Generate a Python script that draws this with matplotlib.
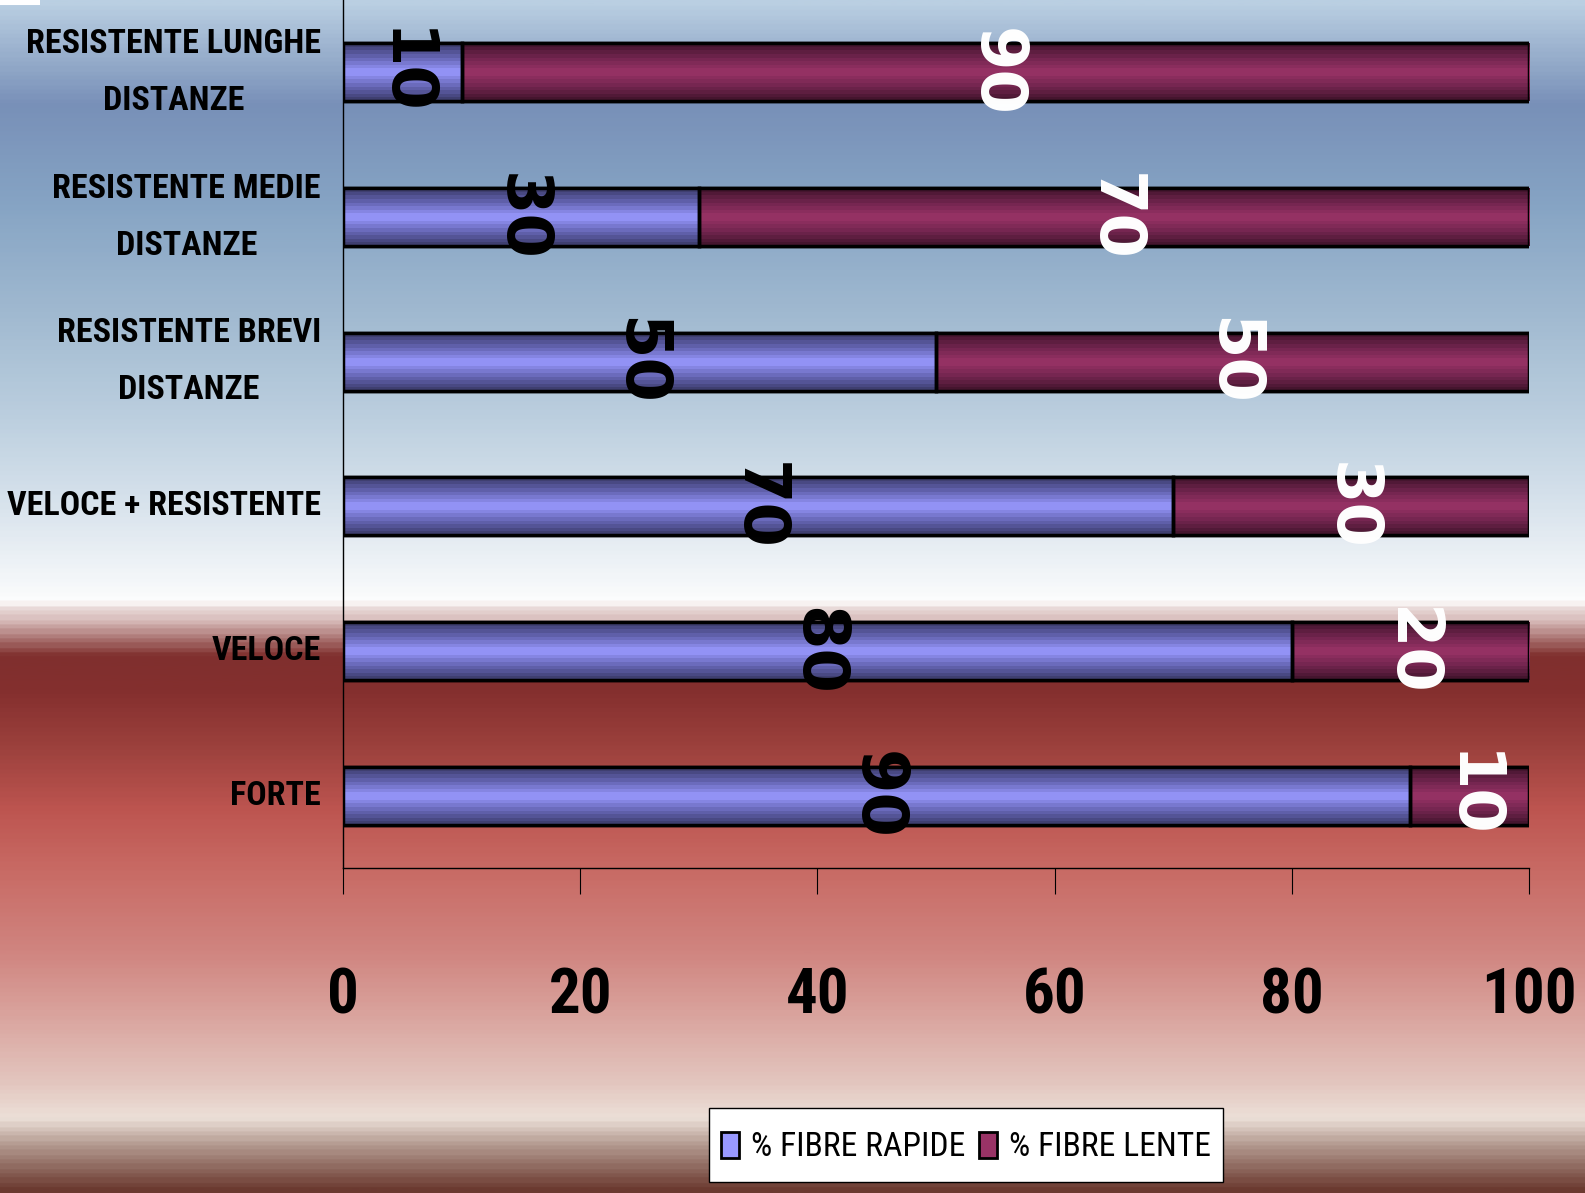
import numpy as np
import matplotlib
matplotlib.use("Agg")
import matplotlib.pyplot as plt
from matplotlib.colors import LinearSegmentedColormap
from matplotlib.patches import Patch, Rectangle
from matplotlib.legend_handler import HandlerPatch
from matplotlib import font_manager as fm

# ---- data ----
categories = ["FORTE", "VELOCE", "VELOCE + RESISTENTE",
              "RESISTENTE BREVI\nDISTANZE", "RESISTENTE MEDIE\nDISTANZE",
              "RESISTENTE LUNGHE\nDISTANZE"]
fibre_rapide = [90, 80, 70, 50, 30, 10]
fibre_lente = [10, 20, 30, 50, 70, 90]
series_names = ["% FIBRE RAPIDE", "% FIBRE LENTE"]
x_ticks = [0, 20, 40, 60, 80, 100]


def pick_family(cands):
    for c in cands:
        try:
            fm.findfont(fm.FontProperties(family=c), fallback_to_default=False)
            return c
        except Exception:
            continue
    return "DejaVu Sans"


NARROW_NAME = pick_family(["Liberation Sans Narrow", "Arial Narrow", "Roboto Condensed",
                           "DejaVu Sans Condensed", "Open Sans Condensed", "Liberation Sans"])
NARROW = [NARROW_NAME, "DejaVu Sans"]

W, H = 1585, 1193
fig = plt.figure(figsize=(W / 100, H / 100), dpi=100)
renderer = fig.canvas.get_renderer()


def fit_size(text, target_px, max_size, **kw):
    t = fig.text(0, 0, text, fontsize=20, family=NARROW, **kw)
    w = t.get_window_extent(renderer).width
    t.remove()
    return min(max_size, 20 * target_px / w)


cat_size = fit_size("VELOCE + RESISTENTE", 314, 27, fontweight="bold", fontstretch="condensed")
tick_size = fit_size("100", 95, 56, fontweight="bold", fontstretch="condensed")
leg_size = fit_size("% FIBRE RAPIDE", 214, 26, fontstretch="condensed")

# ---- background gradient ----
stops = [
    (0.000, "#bacfe2"), (0.085, "#7890b8"), (0.17, "#86a4c4"),
    (0.26, "#a0b9d0"), (0.35, "#bccfdf"), (0.43, "#dbe5ee"),
    (0.50, "#fafbfc"), (0.505, "#ffffff"), (0.507, "#ede2e1"),
    (0.52, "#d8bcba"), (0.55, "#80302e"), (0.58, "#842f2e"),
    (0.63, "#9e423e"), (0.68, "#bd5550"), (0.73, "#c86a64"),
    (0.80, "#d08580"), (0.85, "#d9a29c"), (0.91, "#e3c6bf"),
    (0.94, "#ece0d8"), (0.96, "#b8a096"), (1.0, "#6b3a30"),
]
cmap_bg = LinearSegmentedColormap.from_list("bg", stops)
bg = fig.add_axes([0, 0, 1, 1], zorder=-10)
bg.imshow(np.linspace(0, 1, 600).reshape(-1, 1), aspect="auto", cmap=cmap_bg,
          extent=[0, 1, 0, 1], origin="upper")
bg.set_axis_off()
fig.patches.append(Rectangle((0, 1 - 5 / H), 40 / W, 5 / H, transform=fig.transFigure,
                             facecolor="white", edgecolor="none", zorder=5))

# ---- main axes ----
ax = fig.add_axes([343 / W, 1 - 868 / H, (1529 - 343) / W, 868 / H])
ax.patch.set_alpha(0)
y = np.arange(len(categories))
bh = 0.4

blue_cmap = LinearSegmentedColormap.from_list(
    "b", [(0, "#3f3f70"), (0.25, "#6868b8"), (0.5, "#9999ff"), (0.75, "#6868b8"), (1, "#3f3f70")])
red_cmap = LinearSegmentedColormap.from_list(
    "r", [(0, "#45152e"), (0.25, "#742650"), (0.5, "#993366"), (0.75, "#742650"), (1, "#45152e")])

b1 = ax.barh(y, fibre_rapide, height=bh, color="#9999ff", edgecolor="black", linewidth=2.5, zorder=2)
b2 = ax.barh(y, fibre_lente, left=fibre_rapide, height=bh, color="#993366",
             edgecolor="black", linewidth=2.5, zorder=2)

grad = np.linspace(0, 1, 16).reshape(-1, 1)
for bars, cm in ((b1, blue_cmap), (b2, red_cmap)):
    for p in bars:
        x0, y0 = p.get_x(), p.get_y()
        w, h = p.get_width(), p.get_height()
        im = ax.imshow(grad, aspect="auto", cmap=cm, extent=[x0, x0 + w, y0, y0 + h],
                       origin="lower", zorder=2.5, interpolation="nearest")
        im.set_clip_path(p)
        ax.add_patch(Rectangle((x0, y0), w, h, facecolor="none", edgecolor="black",
                               linewidth=2.5, zorder=3))

# value labels
for i in range(len(categories)):
    ax.text(fibre_rapide[i] / 2, y[i], str(fibre_rapide[i]), rotation=-90,
            ha="center", va="center", fontsize=46, fontweight="bold",
            family="DejaVu Sans", color="black", zorder=5)
    ax.text(fibre_rapide[i] + fibre_lente[i] / 2, y[i], str(fibre_lente[i]), rotation=-90,
            ha="center", va="center", fontsize=46, fontweight="bold",
            family="DejaVu Sans", color="white", zorder=5)

ax.set_xlim(0, 100)
ax.set_ylim(-0.5, 5.5)
ax.set_xticks(x_ticks)
ax.set_xticklabels([str(t) for t in x_ticks], family=NARROW, fontweight="bold",
                   fontstretch="condensed", fontsize=tick_size)
ax.tick_params(axis="x", direction="out", length=19, width=0.8, pad=52)
ax.set_yticks(y)
ax.set_yticklabels(categories, family=NARROW, fontweight="bold", fontstretch="condensed",
                   fontsize=cat_size, linespacing=2.0, multialignment="center", va="center")
ax.tick_params(axis="y", length=0, pad=16)
for s in ("top", "right"):
    ax.spines[s].set_visible(False)
ax.spines["left"].set_linewidth(1.0)
ax.spines["bottom"].set_linewidth(1.0)


# legend with small square keys in a taller row
def small_key(legend, orig_handle, xdescent, ydescent, width, height, fontsize):
    kh = 0.75 * fontsize
    return Rectangle((-xdescent, -ydescent + (height - kh) / 2), width, kh)


handles = [Patch(facecolor="#9999ff", edgecolor="black", linewidth=2),
           Patch(facecolor="#993366", edgecolor="black", linewidth=2)]
leg = fig.legend(handles, series_names, loc="center", bbox_to_anchor=(966 / W, 1 - 1145 / H),
                 bbox_transform=fig.transFigure, ncol=2, frameon=True, fancybox=False,
                 shadow=False, prop={"family": NARROW, "size": leg_size, "stretch": "condensed"},
                 handlelength=0.55, handleheight=1.9, handletextpad=0.35, columnspacing=0.4,
                 borderpad=0.35, borderaxespad=0,
                 handler_map={Patch: HandlerPatch(patch_func=small_key)})
leg.get_frame().set_edgecolor("black")
leg.get_frame().set_linewidth(1.0)
leg.get_frame().set_facecolor("white")
leg.get_frame().set_alpha(1)

fig.savefig("out.png", dpi=100)
